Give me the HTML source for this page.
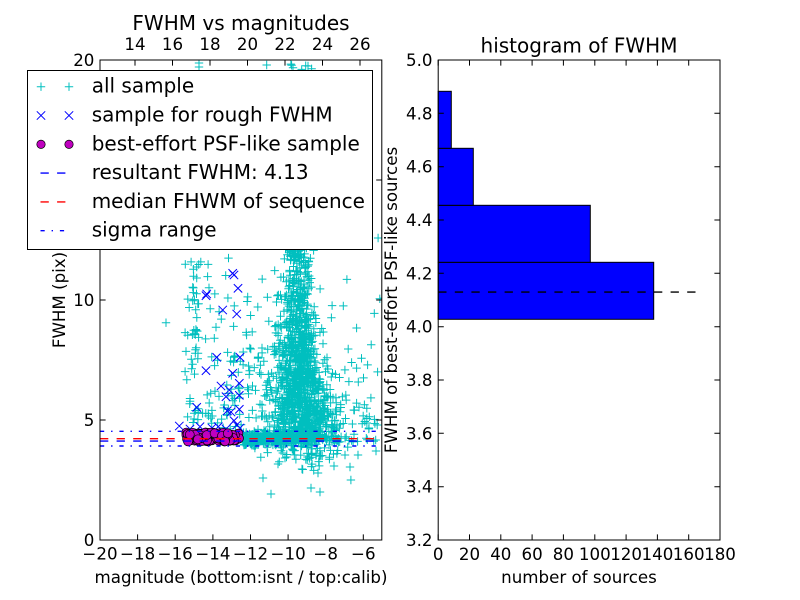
<!DOCTYPE html>
<html><head><meta charset="utf-8"><style>
html,body{margin:0;padding:0;background:#fff;}
svg{display:block;}
text{font-family:"DejaVu Sans","Liberation Sans",sans-serif;fill:#000;}
.tk{font-size:16.67px;}
.lg{font-size:20px;}
</style></head><body>
<svg id="s" width="800" height="600" viewBox="0 0 800 600" xmlns="http://www.w3.org/2000/svg">
<defs>
<clipPath id="c1"><rect x="100" y="60" width="281.8" height="480"/></clipPath>
</defs>
<rect x="0" y="0" width="800" height="600" fill="#fff"/>
<g clip-path="url(#c1)">
<path id="cyan" d="" fill="none" stroke="#00BFBF" stroke-width="1"/>
<path id="bx" d="" fill="none" stroke="#0000FF" stroke-width="1"/>
<g id="mag" fill="#BF00BF" stroke="#000" stroke-width="0.7"></g>
<line x1="100" y1="431.3" x2="381.8" y2="431.3" stroke="#0000FF" stroke-width="1.4" stroke-dasharray="4.2 6.9 1.4 6.9"/>
<line x1="100" y1="446" x2="381.8" y2="446" stroke="#0000FF" stroke-width="1.4" stroke-dasharray="4.2 6.9 1.4 6.9"/>
<line x1="100" y1="438.7" x2="381.8" y2="438.7" stroke="#FF0000" stroke-width="1.4" stroke-dasharray="8.3 8.3"/>
<line x1="100" y1="441.1" x2="381.8" y2="441.1" stroke="#0000FF" stroke-width="1.4" stroke-dasharray="8.3 8.3"/>
</g>
<rect x="100" y="60" width="281.8" height="480" fill="none" stroke="#000" stroke-width="1"/>
<g stroke="#000" stroke-width="1">
<path d="M100 540h5.6M100 420h5.6M100 300h5.6M100 180h5.6M100 60h5.6M381.8 540h-5.6M381.8 420h-5.6M381.8 300h-5.6M381.8 180h-5.6M381.8 60h-5.6"/>
<path d="M100 540v-5.6M137.6 540v-5.6M175.2 540v-5.6M212.9 540v-5.6M250.5 540v-5.6M288.1 540v-5.6M325.7 540v-5.6M363.3 540v-5.6"/>
<path d="M135 60v5.6M172.5 60v5.6M210 60v5.6M247.5 60v5.6M285 60v5.6M322.5 60v5.6M360 60v5.6"/>
</g>
<g class="tk" text-anchor="end">
<text x="94.4" y="546">0</text>
<text x="94.4" y="426">5</text>
<text x="94.4" y="306">10</text>
<text x="94.4" y="186">15</text>
<text x="94.4" y="66">20</text>
</g>
<g class="tk" text-anchor="middle">
<text x="100" y="559.5">−20</text>
<text x="137.6" y="559.5">−18</text>
<text x="175.2" y="559.5">−16</text>
<text x="212.9" y="559.5">−14</text>
<text x="250.5" y="559.5">−12</text>
<text x="288.1" y="559.5">−10</text>
<text x="325.7" y="559.5">−8</text>
<text x="363.3" y="559.5">−6</text>
<text x="135" y="50">14</text>
<text x="172.5" y="50">16</text>
<text x="210" y="50">18</text>
<text x="247.5" y="50">20</text>
<text x="285" y="50">22</text>
<text x="322.5" y="50">24</text>
<text x="360" y="50">26</text>
</g>
<text class="lg" x="241" y="30" text-anchor="middle">FWHM vs magnitudes</text>
<text class="tk" x="241" y="583" text-anchor="middle">magnitude (bottom:isnt / top:calib)</text>
<text class="tk" transform="translate(65,300) rotate(-90)" text-anchor="middle">FWHM (pix)</text>

<rect x="27.5" y="70.5" width="345" height="179" fill="#fff" stroke="#000" stroke-width="1"/>
<path d="M36.8 86.7h8.4M41 82.5v8.4M64.8 86.7h8.4M69 82.5v8.4" stroke="#00BFBF" stroke-width="1" fill="none"/>
<path d="M36.8 111.3l8.4 8.4M36.8 119.7l8.4 -8.4M64.8 111.3l8.4 8.4M64.8 119.7l8.4 -8.4" stroke="#0000FF" stroke-width="1" fill="none"/>
<circle cx="41" cy="144.3" r="4.2" fill="#BF00BF" stroke="#000" stroke-width="0.7"/>
<circle cx="69" cy="144.3" r="4.2" fill="#BF00BF" stroke="#000" stroke-width="0.7"/>
<line x1="40.5" y1="173.1" x2="69" y2="173.1" stroke="#0000FF" stroke-width="1.4" stroke-dasharray="8.3 8.3"/>
<line x1="40.5" y1="201.9" x2="69" y2="201.9" stroke="#FF0000" stroke-width="1.4" stroke-dasharray="8.3 8.3"/>
<line x1="40.5" y1="230.7" x2="69" y2="230.7" stroke="#0000FF" stroke-width="1.4" stroke-dasharray="4.2 6.9 1.4 6.9"/>
<g class="lg">
<text x="91.7" y="92.7">all sample</text>
<text x="91.7" y="121.5">sample for rough FWHM</text>
<text x="91.7" y="150.3">best-effort PSF-like sample</text>
<text x="91.7" y="179.1">resultant FWHM: 4.13</text>
<text x="91.7" y="207.9">median FHWM of sequence</text>
<text x="91.7" y="236.7">sigma range</text>
</g>

<g fill="#0000FF" stroke="#000" stroke-width="1">
<rect x="438.2" y="262.3" width="215.5" height="57"/>
<rect x="438.2" y="205.3" width="152.1" height="57"/>
<rect x="438.2" y="148.3" width="35.1" height="57"/>
<rect x="438.2" y="91.3" width="13.1" height="57"/>
</g>
<line x1="438.2" y1="292.1" x2="696.7" y2="292.1" stroke="#000" stroke-width="1.4" stroke-dasharray="8.3 8.3"/>
<rect x="438.2" y="60" width="281.8" height="480" fill="none" stroke="#000" stroke-width="1"/>
<g stroke="#000" stroke-width="1">
<path d="M438.2 540h5.6M438.2 486.7h5.6M438.2 433.3h5.6M438.2 380h5.6M438.2 326.7h5.6M438.2 273.3h5.6M438.2 220h5.6M438.2 166.7h5.6M438.2 113.3h5.6M438.2 60h5.6"/>
<path d="M720 540h-5.6M720 486.7h-5.6M720 433.3h-5.6M720 380h-5.6M720 326.7h-5.6M720 273.3h-5.6M720 220h-5.6M720 166.7h-5.6M720 113.3h-5.6M720 60h-5.6"/>
<path d="M438.2 540v-5.6M469.5 540v-5.6M500.8 540v-5.6M532.1 540v-5.6M563.4 540v-5.6M594.8 540v-5.6M626.1 540v-5.6M657.4 540v-5.6M688.7 540v-5.6M720 540v-5.6"/>
<path d="M438.2 60v5.6M469.5 60v5.6M500.8 60v5.6M532.1 60v5.6M563.4 60v5.6M594.8 60v5.6M626.1 60v5.6M657.4 60v5.6M688.7 60v5.6M720 60v5.6"/>
</g>
<g class="tk" text-anchor="end">
<text x="432.5" y="546">3.2</text>
<text x="432.5" y="492.7">3.4</text>
<text x="432.5" y="439.3">3.6</text>
<text x="432.5" y="386">3.8</text>
<text x="432.5" y="332.7">4.0</text>
<text x="432.5" y="279.3">4.2</text>
<text x="432.5" y="226">4.4</text>
<text x="432.5" y="172.7">4.6</text>
<text x="432.5" y="119.3">4.8</text>
<text x="432.5" y="66">5.0</text>
</g>
<g class="tk" text-anchor="middle">
<text x="438.2" y="560">0</text>
<text x="469.5" y="560">20</text>
<text x="500.8" y="560">40</text>
<text x="532.1" y="560">60</text>
<text x="563.4" y="560">80</text>
<text x="594.8" y="560">100</text>
<text x="626.1" y="560">120</text>
<text x="657.4" y="560">140</text>
<text x="688.7" y="560">160</text>
<text x="720" y="560">180</text>
</g>
<text class="lg" x="579" y="52.7" text-anchor="middle">histogram of FWHM</text>
<text class="tk" x="579" y="583" text-anchor="middle">number of sources</text>
<text class="tk" transform="translate(397,300) rotate(-90)" text-anchor="middle">FWHM of best-effort PSF-like sources</text>
</svg>
<script>
(function(){
function mb(a){return function(){a|=0;a=a+0x6D2B79F5|0;var t=Math.imul(a^a>>>15,1|a);t=t+Math.imul(t^t>>>7,61|t)^t;return((t^t>>>14)>>>0)/4294967296;};}
var R=mb(12345);
function G(){var u=R()||1e-9,v=R();return Math.sqrt(-2*Math.log(u))*Math.cos(2*Math.PI*v);}
function PX(x){return 100+(x+20)*18.81;}
function PY(y){return 540-24*y;}
var d=[];var h=4.2;
function addP(px,py){d.push("M"+(px-h).toFixed(1)+" "+py.toFixed(1)+"h8.4M"+px.toFixed(1)+" "+(py-h).toFixed(1)+"v8.4");}
function addC(x,y){addP(PX(x),PY(y));}
var i,x,y,r,f;
// main column
for(i=0;i<1300;i++){r=R();
 if(r<0.6) y=4.2+Math.abs(G())*3.0; else if(r<0.88) y=4.2+R()*9.0; else y=4.2+R()*15.8;
 f=Math.min(1,Math.max(0,(10-y)/5.5));
 x=-9.55+0.4*f+G()*(0.38+0.5*f); addC(x,y);}
// band
for(i=0;i<420;i++){x=-12.4+Math.abs(G())*2.4; if(x>-5.0) x=-5.0-R()*1.5; y=4.22+G()*0.14; addC(x,y);}
// below band
for(i=0;i<50;i++){x=-8.8+G()*1.0; y=3.9-Math.abs(G())*0.45; addC(x,y);}
var man=[[271,494],[311,488],[320,492],[278,464],[318,473],[302,469],[350,467],[334,466],[376,451],[358,455],[345,455],[285,458],[263,478],
[199,63],[199,67],[266.7,65],[293,67.7],[305.7,65.7],[308,66],[166,322.7]];
for(i=0;i<man.length;i++) addP(man[i][0],man[i][1]);
// left column
for(i=0;i<55;i++){addC(-15.0+G()*0.22, 4.4+R()*7.3);}
// middle scatter
for(i=0;i<140;i++){addC(-14.4+R()*4.2, 4.5+Math.abs(G())*3.6);}
// right scatter
for(i=0;i<60;i++){addC(-8.3+R()*3.4, 4.4+Math.abs(G())*2.8);}
// upper wide
for(i=0;i<30;i++){addC(-12+R()*6, 10+R()*10);}
document.getElementById("cyan").setAttribute("d",d.join(""));
var bx=[[232.7,273.3],[234,275],[206,295.7],[238,288.3],[222.7,310],[236.7,314],[216.7,357.3],[240,357.3],[206,370.7],[232.7,373.3],[221,386],[229.3,390],[239.3,383.3],[239.3,395.3],[226,396.7],[196.7,407.3],[239.3,409.3],[227.3,410.7],[179.3,426],[218.3,426.7],[234,420.7],[236.7,425],[200,426.7],[190,429],[212,428],[226,429],[240,428],[231,412],[206.7,294]];
var e=[];
for(i=0;i<bx.length;i++){var a=bx[i][0],b=bx[i][1];e.push("M"+(a-h)+" "+(b-h)+"l8.4 8.4M"+(a-h)+" "+(b+h)+"l8.4 -8.4");}
document.getElementById("bx").setAttribute("d",e.join(""));
var g=document.getElementById("mag"),ns="http://www.w3.org/2000/svg";
for(i=0;i<150;i++){var c=document.createElementNS(ns,"circle");
 c.setAttribute("cx",PX(-15.45+R()*2.9).toFixed(1));
 c.setAttribute("cy",PY(4.1+R()*0.38).toFixed(1));
 c.setAttribute("r","4.5");g.appendChild(c);}
})();
</script>
</body></html>
